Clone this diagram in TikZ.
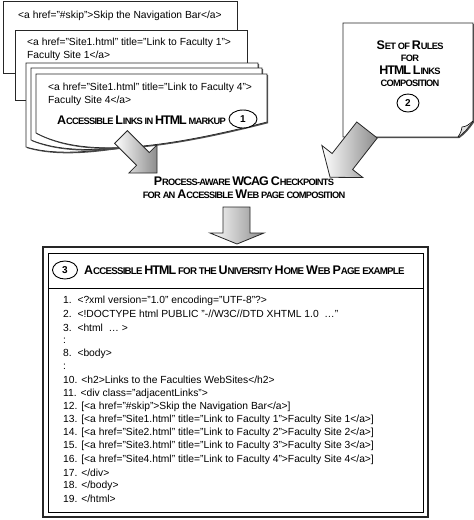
\documentclass[tikz,border=0pt]{standalone}
\usepackage{fontspec}
\setmainfont{Liberation Sans}
\newfontfamily\capfont{Liberation Sans}[LetterSpace=-8]
\usetikzlibrary{shapes.geometric}
\usetikzlibrary{shadows}

\newcommand{\bc}[1]{{\fontsize{12.5}{12}\selectfont #1}}

\tikzset{
  page/.style={draw=black!85, line width=0.7pt, fill=white,
    drop shadow={shadow xshift=1.2pt, shadow yshift=-1.2pt, fill=black!70, opacity=1}},
  code/.style={anchor=west, inner sep=0pt, font=\fontsize{10.3}{12}\selectfont},
  caps/.style={inner sep=0pt, font=\capfont\bfseries\fontsize{9.3}{11}\selectfont},
  numcirc/.style={draw, ellipse, line width=0.9pt, inner sep=0pt, fill=white,
    font=\bfseries\fontsize{10}{12}\selectfont},
  bigarrow/.style={draw=black!85, line width=0.8pt, left color=white, right color=black!45}
}

\begin{document}
\begin{tikzpicture}[x=1pt, y=-1pt]
  \useasboundingbox (0,0) rectangle (474,520);

  % stack of link pages
  \draw[page, line width=1pt] (3,1.5) -- (237,1.5) -- (237,73) -- (3,73) -- cycle;
  \node[code] (skip) at (18,16) {<a href="\#skip">Skip the Navigation Bar</a>};

  \draw[page] (15,30) -- (247,30) -- (247,100) -- (15,100) -- cycle;
  \node[code] (fac1a) at (27,43) {<a href="Site1.html" title="Link to Faculty 1">};
  \node[code] (fac1b) at (27,56) {Faculty Site 1</a>};

  \draw[page] (26,63) -- (258,63) -- (258,114) .. controls (140,148) and (70,160) .. (26,147) -- cycle;
  \draw[page] (31,68) -- (262,68) -- (262,118) .. controls (145,150) and (75,158) .. (31,140) -- cycle;
  \draw[page] (36,74) -- (267,74) -- (267,122) .. controls (150,152) and (80,156) .. (36,133) -- cycle;
  \node[code] (fac4a) at (48,88) {<a href="Site1.html" title="Link to Faculty 4">};
  \node[code] (fac4b) at (48,101) {Faculty Site 4</a>};
  \node[caps, anchor=east] (links) at (226,120) {\bc{A}CCESSIBLE \bc{L}INKS IN \bc{HTML} MARKUP};
  \node[numcirc, minimum width=28, minimum height=18] (n1) at (243,119) {1};

  % rules note
  \draw[page] (343,23) -- (473,23) -- (473,121) .. controls (468,128) and (464,133) .. (458,137) -- (343,137) -- cycle;
  \draw[fill=black!12, line width=0.6pt] (458,137) .. controls (461,132) .. (462,127) .. controls (467,126) .. (473,121);
  \node[caps] (rules1) at (410,45) {\bc{S}ET OF \bc{R}ULES};
  \node[caps] (rules2) at (410,58) {FOR};
  \node[caps] (rules3) at (410,70) {\bc{HTML} \bc{L}INKS};
  \node[caps] (rules4) at (410,83) {COMPOSITION};
  \node[numcirc, minimum width=22, minimum height=18] (n2) at (408,103) {2};

  % checkpoints
  \node[caps] (chk1) at (244,181) {\bc{P}ROCESS-AWARE \bc{WCAG} \bc{C}HECKPOINTS};
  \node[caps] (chk2) at (244,194) {FOR AN \bc{A}CCESSIBLE \bc{W}EB PAGE COMPOSITION};

  % arrows
  \begin{scope}[shift={(121,137)}, rotate=-45]
    \draw[bigarrow] (0,-9) -- (31,-9) -- (31,-20) -- (51,0) -- (31,20) -- (31,9) -- (0,9) -- cycle;
  \end{scope}
  \begin{scope}[shift={(367,130)}, rotate=-128]
    \draw[bigarrow] (0,-13) -- (40,-13) -- (40,-26) -- (60,0) -- (40,26) -- (40,13) -- (0,13) -- cycle;
  \end{scope}
  \draw[bigarrow] (223,207) -- (250,207) -- (250,233) -- (264,233) -- (237,244) -- (210,233) -- (223,233) -- cycle;

  % accessible html box
  \draw[line width=1.6pt, draw=black!85] (43,247) rectangle (428,517);
  \draw[line width=0.8pt, fill=white] (48,253) rectangle (423,512);
  \draw[line width=0.8pt] (48,288) -- (423,288);
  \node[numcirc, minimum width=25, minimum height=18] (n3) at (65,270) {3};
  \node[caps, anchor=west, font=\capfont\bfseries\fontsize{9.7}{11}\selectfont] (title) at (84,270)
    {\bc{A}CCESSIBLE \bc{HTML} FOR THE \bc{U}NIVERSITY \bc{H}OME \bc{W}EB \bc{P}AGE EXAMPLE};

  \foreach \t [count=\i] in {
    {1.\ \ <?xml version="1.0" encoding="UTF-8"?>},
    {2.\ \ <!DOCTYPE html PUBLIC "-//W3C//DTD XHTML 1.0\ \ \ldots"},
    {3.\ \ <html\ \ \ldots\ >},
    {:},
    {8.\ \ <body>},
    {:},
    {10. <h2>Links to the Faculties WebSites</h2>},
    {11. <div class="adjacentLinks">},
    {12. [<a href="\#skip">Skip the Navigation Bar</a>]},
    {13. [<a href="Site1.html" title="Link to Faculty 1">Faculty Site 1</a>]},
    {14. [<a href="Site2.html" title="Link to Faculty 2">Faculty Site 2</a>]},
    {15. [<a href="Site3.html" title="Link to Faculty 3">Faculty Site 3</a>]},
    {16. [<a href="Site4.html" title="Link to Faculty 4">Faculty Site 4</a>]},
    {17. </div>},
    {18. </body>},
    {19. </html>}}
    \node[code] (l\i) at (63,{301+13.2*(\i-1)}) {\t};
\end{tikzpicture}
\end{document}
